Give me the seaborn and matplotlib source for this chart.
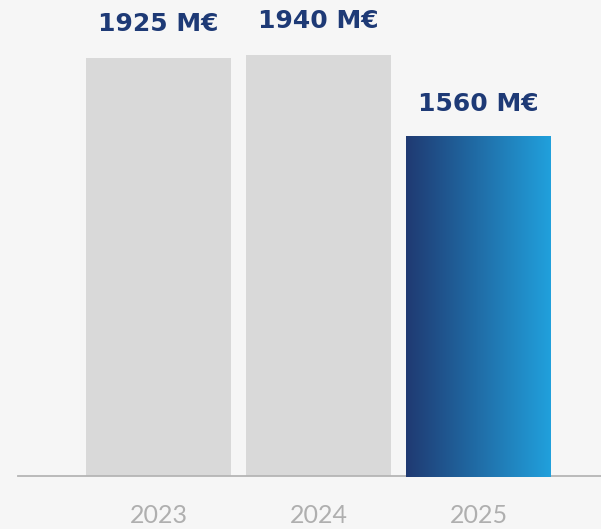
import matplotlib
matplotlib.use("Agg")
import matplotlib.pyplot as plt
import seaborn as sns
import numpy as np
import pandas as pd
from matplotlib.colors import LinearSegmentedColormap
from matplotlib.patches import Rectangle

years = ["2023", "2024", "2025"]
values = [1925, 1940, 1560]
labels = ["1925 M€", "1940 M€", "1560 M€"]

bg = "#f6f6f6"
gray = "#d9d9d9"
navy = "#1e3a76"

sns.set_theme(style="white")
plt.rcParams['font.family'] = ['Lato', 'DejaVu Sans']

df = pd.DataFrame({"year": years, "value": values})

fig = plt.figure(figsize=(6.01, 5.29), dpi=100, facecolor=bg)
ax = fig.add_axes([18/601, (529-476)/529, (601-18)/601, 476/529])
ax.set_facecolor(bg)

sns.barplot(data=df, x="year", y="value", color=gray, width=145/160,
            saturation=1, linewidth=0, ax=ax)

ax.set_xlim((18-158.5)/160, (601-158.5)/160)
ax.set_ylim(0, 476*1925/418)

# gradient on last bar
patch = ax.patches[2]
patch.set_facecolor("none")
x0, y0 = patch.get_x(), patch.get_y()
w, h = patch.get_width(), patch.get_height()
cmap = LinearSegmentedColormap.from_list("g", ["#1f3a72", "#21a0dc"])
grad = np.linspace(0, 1, 256).reshape(1, -1)
im = ax.imshow(grad, cmap=cmap, aspect="auto",
               extent=[x0, x0+w, -6, y0+h], zorder=3)
clip = Rectangle((x0, -6), w, h+6, transform=ax.transData)
im.set_clip_path(clip)
im.set_clip_on(False)

for i, (v, lab) in enumerate(zip(values, labels)):
    ax.text(i, v + 100, lab, ha="center", va="bottom", color=navy,
            fontsize=18, fontweight="bold", family="DejaVu Sans")

for s in ["top", "right", "left"]:
    ax.spines[s].set_visible(False)
ax.spines["bottom"].set_color("#b5b5b5")
ax.spines["bottom"].set_linewidth(1.3)
ax.spines["bottom"].set_zorder(2)

ax.set_xlabel("")
ax.set_ylabel("")
ax.set_yticks([])
ax.tick_params(axis="x", length=0, pad=20, labelsize=18, labelcolor="#afafaf")

fig.savefig("out.png", dpi=100, facecolor=bg)
